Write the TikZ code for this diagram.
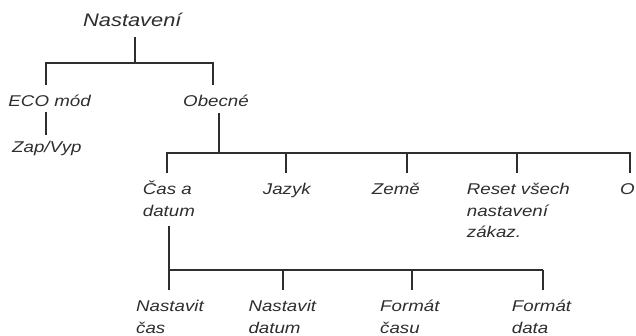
\documentclass[tikz,border=0pt]{standalone}
\usepackage{fontspec}
\setmainfont{Liberation Sans}[FakeStretch=1.2]
\definecolor{ink}{HTML}{2E2E2E}
\tikzset{
  conn/.style={draw=ink, line width=1.7pt},
  lbl/.style={anchor=base west, inner sep=0pt, align=left, text=ink,
    font=\itshape\fontsize{15.6}{21.5}\selectfont},
  title/.style={anchor=base west, inner sep=0pt, text=ink,
    font=\itshape\fontsize{18.2}{22}\selectfont}
}
\begin{document}
\begin{tikzpicture}[x=1pt,y=-1pt]
\useasboundingbox (0,0) rectangle (636,336);
% nodes (anchor = baseline of last line)
\node[title] (root) at (83,26.7) {Nastavení};
\node[lbl] (eco) at (8.3,107) {ECO mód};
\node[lbl] (obec) at (183,107) {Obecné};
\node[lbl] (zap) at (12,153) {Zap/Vyp};
\node[lbl] (cas) at (142.7,216.5) {Čas a\\datum};
\node[lbl] (jaz) at (262.7,195) {Jazyk};
\node[lbl] (zem) at (371.7,195) {Země};
\node[lbl] (res) at (466.7,238) {Reset všech\\nastavení\\zákaz.};
\node[lbl] (o) at (620,195) {O};
\node[lbl] (nc) at (136,333) {Nastavit\\čas};
\node[lbl] (nd) at (248.3,333) {Nastavit\\datum};
\node[lbl] (fc) at (380,333) {Formát\\času};
\node[lbl] (fd) at (511.7,333) {Formát\\data};
% junction coordinates
\coordinate (b0) at (135,63);
\coordinate (b1) at (219,153);
\coordinate (b2) at (169.3,270);
% Nastaveni
\draw[conn] (b0 |- root.base) ++(0,10.3) -- (b0);
\draw[conn] (46,85) |- (b0) -| (213.3,85);
% ECO mod -> Zap/Vyp
\draw[conn] (46,112) -- (46,135);
% Obecne
\draw[conn] (b1 |- obec.base) ++(0,6) -- (b1);
\draw[conn] (166.7,173.3) |- (b1) -| (630,173.3);
\foreach \x in {285.7,407.3,516.7} \draw[conn] (\x,153) -- (\x,173.3);
% Cas a datum
\draw[conn] (b2 |- cas.base) ++(0,9.5) -- (b2);
\draw[conn] (b2) -- (542.7,270);
\foreach \x in {169.3,283.3,412,542.7} \draw[conn] (\x,270) -- (\x,290);
\end{tikzpicture}
\end{document}
